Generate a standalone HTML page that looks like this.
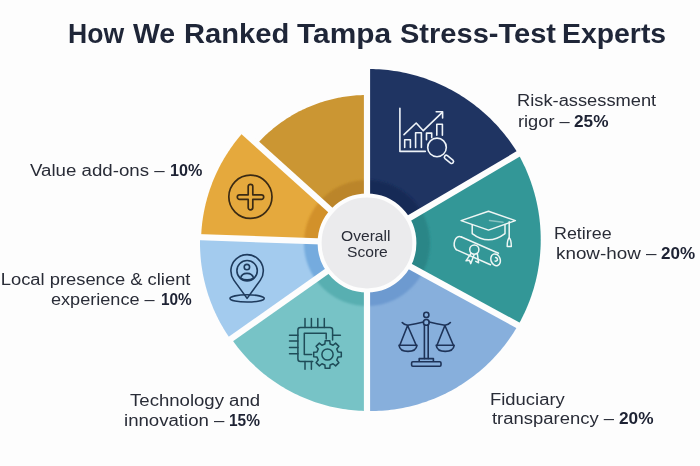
<!DOCTYPE html>
<html><head><meta charset="utf-8"><style>
html,body{margin:0;padding:0;background:#fdfdfd;}
body{width:700px;height:466px;position:relative;overflow:hidden;font-family:"Liberation Sans",Arial,sans-serif;}
.chart{position:absolute;left:0;top:0;}
.t{position:absolute;white-space:nowrap;}
.t b{color:#1d2233;}
</style></head><body>
<svg class="chart" width="700" height="466" viewBox="0 0 700 466">
<defs>
<filter id="soft" x="-20%" y="-20%" width="140%" height="140%"><feGaussianBlur stdDeviation="1.0"/></filter>
<clipPath id="pieclip"><path d="M367.00,243.00 L367.00,69.00 L370.01,69.00 L373.02,69.05 L376.03,69.16 L379.04,69.32 L382.05,69.53 L385.05,69.79 L388.05,70.10 L391.04,70.47 L394.03,70.88 L397.01,71.35 L399.98,71.87 L402.94,72.45 L405.89,73.07 L408.83,73.74 L411.76,74.47 L414.68,75.24 L417.58,76.07 L420.47,76.95 L423.35,77.87 L426.21,78.85 L429.05,79.88 L431.87,80.95 L434.67,82.08 L437.46,83.25 L440.22,84.47 L442.97,85.74 L445.69,87.05 L448.39,88.42 L451.06,89.83 L453.71,91.28 L456.34,92.78 L458.94,94.33 L461.51,95.92 L464.06,97.56 L466.57,99.24 L469.06,100.97 L471.52,102.73 L473.95,104.54 L476.34,106.40 L478.71,108.29 L481.04,110.22 L483.33,112.20 L485.60,114.21 L487.83,116.27 L490.02,118.36 L492.18,120.49 L494.30,122.66 L496.38,124.86 L498.42,127.10 L500.43,129.38 L502.39,131.69 L504.32,134.03 L506.20,136.41 L508.05,138.82 L509.85,141.26 L511.61,143.74 L513.33,146.24 L515.00,148.77 L516.63,151.34 L518.22,153.93 Z" fill="#1f3462"/><path d="M367.00,243.00 L518.22,153.93 L519.67,156.57 L521.09,159.23 L522.45,161.92 L523.77,164.63 L525.04,167.36 L526.27,170.12 L527.44,172.89 L528.57,175.68 L529.65,178.49 L530.68,181.31 L531.66,184.16 L532.59,187.01 L533.47,189.89 L534.31,192.77 L535.09,195.67 L535.82,198.58 L536.50,201.51 L537.14,204.44 L537.72,207.38 L538.25,210.33 L538.72,213.29 L539.15,216.26 L539.53,219.23 L539.85,222.20 L540.13,225.19 L540.35,228.17 L540.52,231.16 L540.64,234.14 L540.71,237.13 L540.73,240.12 L540.69,243.11 L540.61,246.09 L540.47,249.07 L540.28,252.05 L540.04,255.02 L539.75,257.99 L539.41,260.95 L539.02,263.91 L538.57,266.85 L538.08,269.79 L537.54,272.72 L536.95,275.63 L536.30,278.54 L535.61,281.43 L534.87,284.31 L534.08,287.17 L533.24,290.02 L532.35,292.86 L531.41,295.68 L530.42,298.48 L529.39,301.26 L528.31,304.02 L527.18,306.76 L526.01,309.48 L524.79,312.18 L523.53,314.86 L522.21,317.52 L520.86,320.15 L519.46,322.75 L518.01,325.33 Z" fill="#339797"/><path d="M367.00,243.00 L518.01,325.33 L516.46,327.99 L514.86,330.61 L513.22,333.20 L511.53,335.76 L509.79,338.29 L508.01,340.79 L506.19,343.25 L504.32,345.68 L502.41,348.08 L500.46,350.44 L498.47,352.76 L496.44,355.05 L494.37,357.30 L492.26,359.51 L490.11,361.68 L487.92,363.81 L485.70,365.90 L483.44,367.96 L481.15,369.97 L478.82,371.93 L476.45,373.86 L474.06,375.74 L471.63,377.58 L469.17,379.37 L466.68,381.12 L464.16,382.83 L461.61,384.48 L459.03,386.09 L456.42,387.66 L453.79,389.17 L451.13,390.64 L448.45,392.06 L445.75,393.44 L443.02,394.76 L440.27,396.03 L437.49,397.26 L434.70,398.43 L431.89,399.55 L429.06,400.62 L426.21,401.64 L423.34,402.61 L420.46,403.53 L417.57,404.40 L414.66,405.21 L411.74,405.97 L408.80,406.68 L405.86,407.34 L402.90,407.94 L399.94,408.49 L396.96,408.98 L393.99,409.43 L391.00,409.82 L388.01,410.15 L385.01,410.43 L382.01,410.66 L379.01,410.84 L376.01,410.96 L373.00,411.03 L370.00,411.04 L367.00,411.00 Z" fill="#87afdc"/><path d="M367.00,243.00 L367.00,411.00 L364.32,410.95 L361.65,410.85 L358.97,410.71 L356.30,410.53 L353.64,410.30 L350.98,410.03 L348.32,409.72 L345.67,409.37 L343.02,408.98 L340.39,408.54 L337.76,408.06 L335.14,407.54 L332.52,406.98 L329.92,406.38 L327.33,405.73 L324.75,405.05 L322.18,404.32 L319.62,403.56 L317.08,402.75 L314.55,401.90 L312.04,401.01 L309.54,400.09 L307.05,399.12 L304.58,398.11 L302.13,397.07 L299.70,395.98 L297.28,394.86 L294.88,393.70 L292.50,392.50 L290.15,391.27 L287.81,389.99 L285.49,388.68 L283.20,387.34 L280.92,385.95 L278.67,384.53 L276.45,383.08 L274.24,381.59 L272.07,380.07 L269.91,378.51 L267.78,376.92 L265.68,375.29 L263.61,373.64 L261.56,371.95 L259.54,370.22 L257.55,368.47 L255.58,366.68 L253.65,364.87 L251.74,363.02 L249.87,361.14 L248.02,359.24 L246.21,357.30 L244.43,355.34 L242.68,353.35 L240.96,351.33 L239.28,349.29 L237.62,347.22 L236.00,345.12 L234.42,343.00 L232.87,340.86 L231.35,338.69 Z" fill="#77c3c6"/><path d="M367.00,243.00 L230.54,339.26 L229.50,337.78 L228.49,336.29 L227.48,334.78 L226.50,333.27 L225.53,331.74 L224.58,330.21 L223.64,328.66 L222.72,327.11 L221.82,325.54 L220.94,323.96 L220.07,322.38 L219.22,320.78 L218.39,319.18 L217.57,317.57 L216.77,315.95 L215.99,314.32 L215.23,312.68 L214.49,311.03 L213.76,309.38 L213.05,307.72 L212.36,306.05 L211.68,304.37 L211.03,302.68 L210.39,300.99 L209.77,299.29 L209.17,297.59 L208.59,295.88 L208.03,294.16 L207.49,292.44 L206.96,290.71 L206.45,288.98 L205.97,287.24 L205.50,285.49 L205.05,283.74 L204.61,281.99 L204.20,280.23 L203.81,278.46 L203.43,276.69 L203.08,274.92 L202.74,273.15 L202.43,271.37 L202.13,269.59 L201.85,267.80 L201.59,266.01 L201.35,264.22 L201.13,262.43 L200.93,260.63 L200.75,258.83 L200.59,257.03 L200.45,255.23 L200.33,253.43 L200.22,251.62 L200.14,249.82 L200.08,248.01 L200.03,246.21 L200.01,244.40 L200.00,242.59 L200.01,240.78 L200.05,238.98 L200.10,237.17 Z" fill="#a3cbee"/><path d="M367.00,243.00 L201.10,237.21 L201.18,235.28 L201.28,233.35 L201.40,231.42 L201.55,229.49 L201.72,227.57 L201.91,225.65 L202.12,223.73 L202.36,221.81 L202.62,219.90 L202.90,217.99 L203.20,216.08 L203.52,214.17 L203.87,212.27 L204.24,210.38 L204.63,208.49 L205.04,206.60 L205.47,204.72 L205.93,202.84 L206.41,200.97 L206.91,199.10 L207.43,197.24 L207.97,195.39 L208.54,193.54 L209.12,191.70 L209.73,189.87 L210.36,188.04 L211.01,186.22 L211.68,184.41 L212.37,182.61 L213.09,180.82 L213.82,179.03 L214.58,177.25 L215.35,175.48 L216.15,173.72 L216.96,171.97 L217.80,170.23 L218.66,168.50 L219.53,166.78 L220.43,165.07 L221.35,163.37 L222.28,161.68 L223.24,160.00 L224.22,158.33 L225.21,156.68 L226.22,155.03 L227.26,153.40 L228.31,151.78 L229.38,150.17 L230.47,148.58 L231.58,147.00 L232.70,145.43 L233.85,143.87 L235.01,142.33 L236.19,140.80 L237.39,139.29 L238.60,137.78 L239.84,136.30 L241.09,134.82 L242.35,133.37 L243.64,131.92 Z" fill="#e5a93d"/><path d="M367.00,243.00 L257.01,143.97 L258.41,142.44 L259.82,140.94 L261.26,139.45 L262.71,137.98 L264.19,136.54 L265.69,135.11 L267.20,133.71 L268.74,132.33 L270.29,130.96 L271.87,129.63 L273.46,128.31 L275.07,127.01 L276.70,125.74 L278.34,124.49 L280.01,123.27 L281.69,122.06 L283.38,120.88 L285.10,119.73 L286.83,118.60 L288.57,117.49 L290.33,116.41 L292.11,115.35 L293.90,114.31 L295.70,113.31 L297.52,112.32 L299.35,111.37 L301.19,110.43 L303.05,109.53 L304.92,108.65 L306.80,107.80 L308.70,106.97 L310.60,106.17 L312.52,105.39 L314.44,104.65 L316.38,103.93 L318.33,103.23 L320.28,102.57 L322.25,101.93 L324.22,101.32 L326.21,100.73 L328.20,100.18 L330.19,99.65 L332.20,99.15 L334.21,98.68 L336.23,98.23 L338.25,97.82 L340.28,97.43 L342.32,97.07 L344.36,96.74 L346.40,96.44 L348.45,96.17 L350.50,95.92 L352.56,95.71 L354.62,95.52 L356.68,95.36 L358.74,95.23 L360.80,95.13 L362.87,95.06 L364.93,95.01 L367.00,95.00 Z" fill="#cb9633"/></clipPath>
</defs>
<path d="M367.00,243.00 L367.00,69.00 L370.01,69.00 L373.02,69.05 L376.03,69.16 L379.04,69.32 L382.05,69.53 L385.05,69.79 L388.05,70.10 L391.04,70.47 L394.03,70.88 L397.01,71.35 L399.98,71.87 L402.94,72.45 L405.89,73.07 L408.83,73.74 L411.76,74.47 L414.68,75.24 L417.58,76.07 L420.47,76.95 L423.35,77.87 L426.21,78.85 L429.05,79.88 L431.87,80.95 L434.67,82.08 L437.46,83.25 L440.22,84.47 L442.97,85.74 L445.69,87.05 L448.39,88.42 L451.06,89.83 L453.71,91.28 L456.34,92.78 L458.94,94.33 L461.51,95.92 L464.06,97.56 L466.57,99.24 L469.06,100.97 L471.52,102.73 L473.95,104.54 L476.34,106.40 L478.71,108.29 L481.04,110.22 L483.33,112.20 L485.60,114.21 L487.83,116.27 L490.02,118.36 L492.18,120.49 L494.30,122.66 L496.38,124.86 L498.42,127.10 L500.43,129.38 L502.39,131.69 L504.32,134.03 L506.20,136.41 L508.05,138.82 L509.85,141.26 L511.61,143.74 L513.33,146.24 L515.00,148.77 L516.63,151.34 L518.22,153.93 Z" fill="#1f3462"/><path d="M367.00,243.00 L518.22,153.93 L519.67,156.57 L521.09,159.23 L522.45,161.92 L523.77,164.63 L525.04,167.36 L526.27,170.12 L527.44,172.89 L528.57,175.68 L529.65,178.49 L530.68,181.31 L531.66,184.16 L532.59,187.01 L533.47,189.89 L534.31,192.77 L535.09,195.67 L535.82,198.58 L536.50,201.51 L537.14,204.44 L537.72,207.38 L538.25,210.33 L538.72,213.29 L539.15,216.26 L539.53,219.23 L539.85,222.20 L540.13,225.19 L540.35,228.17 L540.52,231.16 L540.64,234.14 L540.71,237.13 L540.73,240.12 L540.69,243.11 L540.61,246.09 L540.47,249.07 L540.28,252.05 L540.04,255.02 L539.75,257.99 L539.41,260.95 L539.02,263.91 L538.57,266.85 L538.08,269.79 L537.54,272.72 L536.95,275.63 L536.30,278.54 L535.61,281.43 L534.87,284.31 L534.08,287.17 L533.24,290.02 L532.35,292.86 L531.41,295.68 L530.42,298.48 L529.39,301.26 L528.31,304.02 L527.18,306.76 L526.01,309.48 L524.79,312.18 L523.53,314.86 L522.21,317.52 L520.86,320.15 L519.46,322.75 L518.01,325.33 Z" fill="#339797"/><path d="M367.00,243.00 L518.01,325.33 L516.46,327.99 L514.86,330.61 L513.22,333.20 L511.53,335.76 L509.79,338.29 L508.01,340.79 L506.19,343.25 L504.32,345.68 L502.41,348.08 L500.46,350.44 L498.47,352.76 L496.44,355.05 L494.37,357.30 L492.26,359.51 L490.11,361.68 L487.92,363.81 L485.70,365.90 L483.44,367.96 L481.15,369.97 L478.82,371.93 L476.45,373.86 L474.06,375.74 L471.63,377.58 L469.17,379.37 L466.68,381.12 L464.16,382.83 L461.61,384.48 L459.03,386.09 L456.42,387.66 L453.79,389.17 L451.13,390.64 L448.45,392.06 L445.75,393.44 L443.02,394.76 L440.27,396.03 L437.49,397.26 L434.70,398.43 L431.89,399.55 L429.06,400.62 L426.21,401.64 L423.34,402.61 L420.46,403.53 L417.57,404.40 L414.66,405.21 L411.74,405.97 L408.80,406.68 L405.86,407.34 L402.90,407.94 L399.94,408.49 L396.96,408.98 L393.99,409.43 L391.00,409.82 L388.01,410.15 L385.01,410.43 L382.01,410.66 L379.01,410.84 L376.01,410.96 L373.00,411.03 L370.00,411.04 L367.00,411.00 Z" fill="#87afdc"/><path d="M367.00,243.00 L367.00,411.00 L364.32,410.95 L361.65,410.85 L358.97,410.71 L356.30,410.53 L353.64,410.30 L350.98,410.03 L348.32,409.72 L345.67,409.37 L343.02,408.98 L340.39,408.54 L337.76,408.06 L335.14,407.54 L332.52,406.98 L329.92,406.38 L327.33,405.73 L324.75,405.05 L322.18,404.32 L319.62,403.56 L317.08,402.75 L314.55,401.90 L312.04,401.01 L309.54,400.09 L307.05,399.12 L304.58,398.11 L302.13,397.07 L299.70,395.98 L297.28,394.86 L294.88,393.70 L292.50,392.50 L290.15,391.27 L287.81,389.99 L285.49,388.68 L283.20,387.34 L280.92,385.95 L278.67,384.53 L276.45,383.08 L274.24,381.59 L272.07,380.07 L269.91,378.51 L267.78,376.92 L265.68,375.29 L263.61,373.64 L261.56,371.95 L259.54,370.22 L257.55,368.47 L255.58,366.68 L253.65,364.87 L251.74,363.02 L249.87,361.14 L248.02,359.24 L246.21,357.30 L244.43,355.34 L242.68,353.35 L240.96,351.33 L239.28,349.29 L237.62,347.22 L236.00,345.12 L234.42,343.00 L232.87,340.86 L231.35,338.69 Z" fill="#77c3c6"/><path d="M367.00,243.00 L230.54,339.26 L229.50,337.78 L228.49,336.29 L227.48,334.78 L226.50,333.27 L225.53,331.74 L224.58,330.21 L223.64,328.66 L222.72,327.11 L221.82,325.54 L220.94,323.96 L220.07,322.38 L219.22,320.78 L218.39,319.18 L217.57,317.57 L216.77,315.95 L215.99,314.32 L215.23,312.68 L214.49,311.03 L213.76,309.38 L213.05,307.72 L212.36,306.05 L211.68,304.37 L211.03,302.68 L210.39,300.99 L209.77,299.29 L209.17,297.59 L208.59,295.88 L208.03,294.16 L207.49,292.44 L206.96,290.71 L206.45,288.98 L205.97,287.24 L205.50,285.49 L205.05,283.74 L204.61,281.99 L204.20,280.23 L203.81,278.46 L203.43,276.69 L203.08,274.92 L202.74,273.15 L202.43,271.37 L202.13,269.59 L201.85,267.80 L201.59,266.01 L201.35,264.22 L201.13,262.43 L200.93,260.63 L200.75,258.83 L200.59,257.03 L200.45,255.23 L200.33,253.43 L200.22,251.62 L200.14,249.82 L200.08,248.01 L200.03,246.21 L200.01,244.40 L200.00,242.59 L200.01,240.78 L200.05,238.98 L200.10,237.17 Z" fill="#a3cbee"/><path d="M367.00,243.00 L201.10,237.21 L201.18,235.28 L201.28,233.35 L201.40,231.42 L201.55,229.49 L201.72,227.57 L201.91,225.65 L202.12,223.73 L202.36,221.81 L202.62,219.90 L202.90,217.99 L203.20,216.08 L203.52,214.17 L203.87,212.27 L204.24,210.38 L204.63,208.49 L205.04,206.60 L205.47,204.72 L205.93,202.84 L206.41,200.97 L206.91,199.10 L207.43,197.24 L207.97,195.39 L208.54,193.54 L209.12,191.70 L209.73,189.87 L210.36,188.04 L211.01,186.22 L211.68,184.41 L212.37,182.61 L213.09,180.82 L213.82,179.03 L214.58,177.25 L215.35,175.48 L216.15,173.72 L216.96,171.97 L217.80,170.23 L218.66,168.50 L219.53,166.78 L220.43,165.07 L221.35,163.37 L222.28,161.68 L223.24,160.00 L224.22,158.33 L225.21,156.68 L226.22,155.03 L227.26,153.40 L228.31,151.78 L229.38,150.17 L230.47,148.58 L231.58,147.00 L232.70,145.43 L233.85,143.87 L235.01,142.33 L236.19,140.80 L237.39,139.29 L238.60,137.78 L239.84,136.30 L241.09,134.82 L242.35,133.37 L243.64,131.92 Z" fill="#e5a93d"/><path d="M367.00,243.00 L257.01,143.97 L258.41,142.44 L259.82,140.94 L261.26,139.45 L262.71,137.98 L264.19,136.54 L265.69,135.11 L267.20,133.71 L268.74,132.33 L270.29,130.96 L271.87,129.63 L273.46,128.31 L275.07,127.01 L276.70,125.74 L278.34,124.49 L280.01,123.27 L281.69,122.06 L283.38,120.88 L285.10,119.73 L286.83,118.60 L288.57,117.49 L290.33,116.41 L292.11,115.35 L293.90,114.31 L295.70,113.31 L297.52,112.32 L299.35,111.37 L301.19,110.43 L303.05,109.53 L304.92,108.65 L306.80,107.80 L308.70,106.97 L310.60,106.17 L312.52,105.39 L314.44,104.65 L316.38,103.93 L318.33,103.23 L320.28,102.57 L322.25,101.93 L324.22,101.32 L326.21,100.73 L328.20,100.18 L330.19,99.65 L332.20,99.15 L334.21,98.68 L336.23,98.23 L338.25,97.82 L340.28,97.43 L342.32,97.07 L344.36,96.74 L346.40,96.44 L348.45,96.17 L350.50,95.92 L352.56,95.71 L354.62,95.52 L356.68,95.36 L358.74,95.23 L360.80,95.13 L362.87,95.06 L364.93,95.01 L367.00,95.00 Z" fill="#cb9633"/>
<g clip-path="url(#pieclip)"><g filter="url(#soft)"><path d="M367.00,243.00 L365.90,180.01 L367.03,180.00 L368.15,180.01 L369.28,180.04 L370.41,180.09 L371.53,180.16 L372.66,180.25 L373.78,180.37 L374.90,180.50 L376.01,180.65 L377.13,180.82 L378.24,181.01 L379.34,181.22 L380.45,181.45 L381.55,181.70 L382.64,181.97 L383.73,182.26 L384.81,182.57 L385.89,182.90 L386.96,183.25 L388.03,183.61 L389.09,184.00 L390.14,184.40 L391.19,184.83 L392.22,185.27 L393.25,185.73 L394.27,186.21 L395.28,186.71 L396.29,187.22 L397.28,187.75 L398.26,188.30 L399.24,188.87 L400.20,189.46 L401.15,190.06 L402.09,190.68 L403.02,191.31 L403.94,191.97 L404.85,192.64 L405.74,193.32 L406.63,194.02 L407.50,194.74 L408.35,195.47 L409.20,196.22 L410.03,196.98 L410.84,197.76 L411.64,198.55 L412.43,199.36 L413.21,200.18 L413.96,201.01 L414.71,201.86 L415.44,202.72 L416.15,203.59 L416.85,204.47 L417.53,205.37 L418.19,206.28 L418.84,207.20 L419.47,208.14 L420.09,209.08 L420.69,210.04 L421.27,211.00 L421.83,211.98 Z" fill="#192c57"/><path d="M367.00,243.00 L420.72,210.08 L421.29,211.04 L421.85,212.01 L422.39,212.99 L422.92,213.98 L423.43,214.98 L423.91,215.99 L424.39,217.00 L424.84,218.03 L425.27,219.06 L425.69,220.10 L426.09,221.14 L426.47,222.20 L426.83,223.26 L427.17,224.32 L427.49,225.40 L427.79,226.48 L428.08,227.56 L428.34,228.65 L428.59,229.74 L428.81,230.84 L429.02,231.94 L429.21,233.04 L429.37,234.15 L429.52,235.26 L429.65,236.37 L429.76,237.48 L429.85,238.60 L429.91,239.72 L429.96,240.84 L429.99,241.96 L430.00,243.08 L429.99,244.19 L429.96,245.31 L429.91,246.43 L429.84,247.55 L429.74,248.67 L429.63,249.78 L429.50,250.89 L429.35,252.00 L429.18,253.11 L428.99,254.21 L428.79,255.31 L428.56,256.41 L428.31,257.50 L428.04,258.59 L427.75,259.67 L427.45,260.75 L427.12,261.82 L426.78,262.88 L426.42,263.94 L426.04,265.00 L425.64,266.04 L425.22,267.08 L424.78,268.11 L424.32,269.13 L423.85,270.15 L423.36,271.15 L422.85,272.15 L422.32,273.14 L421.78,274.12 Z" fill="#2a8687"/><path d="M367.00,243.00 L422.83,272.19 L422.28,273.21 L421.72,274.23 L421.13,275.23 L420.53,276.22 L419.91,277.20 L419.27,278.17 L418.61,279.13 L417.93,280.08 L417.24,281.01 L416.53,281.93 L415.81,282.84 L415.06,283.73 L414.30,284.61 L413.53,285.48 L412.74,286.33 L411.93,287.16 L411.11,287.98 L410.27,288.79 L409.42,289.58 L408.55,290.35 L407.67,291.11 L406.78,291.85 L405.87,292.58 L404.95,293.29 L404.02,293.98 L403.07,294.65 L402.11,295.31 L401.14,295.95 L400.16,296.57 L399.16,297.17 L398.16,297.75 L397.14,298.32 L396.12,298.87 L395.08,299.39 L394.04,299.90 L392.99,300.39 L391.92,300.86 L390.85,301.31 L389.77,301.74 L388.68,302.15 L387.59,302.54 L386.49,302.91 L385.38,303.26 L384.27,303.59 L383.15,303.90 L382.02,304.18 L380.89,304.45 L379.75,304.70 L378.61,304.92 L377.47,305.12 L376.32,305.31 L375.17,305.47 L374.02,305.61 L372.86,305.73 L371.71,305.82 L370.55,305.90 L369.39,305.95 L368.22,305.99 L367.06,306.00 L365.90,305.99 Z" fill="#6d9ad0"/><path d="M367.00,243.00 L368.10,305.99 L367.06,306.00 L366.02,305.99 L364.98,305.97 L363.94,305.93 L362.90,305.87 L361.86,305.79 L360.82,305.70 L359.79,305.59 L358.76,305.46 L357.72,305.31 L356.70,305.15 L355.67,304.97 L354.65,304.78 L353.63,304.56 L352.61,304.34 L351.60,304.09 L350.60,303.83 L349.59,303.55 L348.59,303.25 L347.60,302.94 L346.61,302.61 L345.63,302.27 L344.66,301.90 L343.69,301.53 L342.72,301.13 L341.76,300.72 L340.81,300.30 L339.87,299.86 L338.94,299.40 L338.01,298.93 L337.09,298.45 L336.18,297.94 L335.27,297.43 L334.38,296.90 L333.49,296.35 L332.61,295.79 L331.75,295.21 L330.89,294.62 L330.04,294.02 L329.20,293.40 L328.38,292.77 L327.56,292.13 L326.75,291.47 L325.96,290.80 L325.17,290.11 L324.40,289.41 L323.64,288.70 L322.89,287.98 L322.15,287.25 L321.43,286.50 L320.72,285.74 L320.02,284.97 L319.33,284.19 L318.65,283.39 L317.99,282.59 L317.35,281.78 L316.71,280.95 L316.09,280.11 L315.49,279.27 L314.89,278.41 Z" fill="#59afb1"/><path d="M367.00,243.00 L316.16,280.21 L315.74,279.63 L315.33,279.04 L314.92,278.45 L314.52,277.85 L314.12,277.25 L313.74,276.65 L313.36,276.04 L312.98,275.42 L312.62,274.80 L312.26,274.18 L311.91,273.56 L311.56,272.93 L311.22,272.29 L310.89,271.65 L310.57,271.01 L310.25,270.37 L309.95,269.72 L309.65,269.07 L309.35,268.41 L309.07,267.75 L308.79,267.09 L308.52,266.42 L308.25,265.76 L308.00,265.08 L307.75,264.41 L307.51,263.73 L307.28,263.05 L307.05,262.37 L306.83,261.69 L306.63,261.00 L306.42,260.31 L306.23,259.62 L306.05,258.92 L305.87,258.23 L305.70,257.53 L305.54,256.83 L305.38,256.13 L305.24,255.42 L305.10,254.72 L304.97,254.01 L304.85,253.30 L304.73,252.59 L304.63,251.88 L304.53,251.17 L304.44,250.46 L304.36,249.75 L304.29,249.03 L304.22,248.32 L304.17,247.60 L304.12,246.88 L304.08,246.17 L304.05,245.45 L304.02,244.73 L304.01,244.01 L304.00,243.29 L304.00,242.57 L304.01,241.86 L304.03,241.14 L304.05,240.42 L304.09,239.70 Z" fill="#74abde"/><path d="M367.00,243.00 L304.01,241.90 L304.03,241.13 L304.06,240.36 L304.09,239.59 L304.14,238.82 L304.19,238.06 L304.26,237.29 L304.33,236.52 L304.42,235.76 L304.51,234.99 L304.61,234.23 L304.72,233.47 L304.85,232.71 L304.98,231.95 L305.12,231.19 L305.26,230.44 L305.42,229.69 L305.59,228.94 L305.77,228.19 L305.95,227.44 L306.15,226.69 L306.35,225.95 L306.56,225.21 L306.79,224.48 L307.02,223.74 L307.26,223.01 L307.50,222.28 L307.76,221.56 L308.03,220.83 L308.30,220.12 L308.59,219.40 L308.88,218.69 L309.18,217.98 L309.49,217.28 L309.81,216.57 L310.14,215.88 L310.47,215.19 L310.82,214.50 L311.17,213.81 L311.53,213.13 L311.90,212.46 L312.28,211.79 L312.66,211.12 L313.06,210.46 L313.46,209.80 L313.87,209.15 L314.28,208.50 L314.71,207.86 L315.14,207.23 L315.58,206.59 L316.03,205.97 L316.49,205.35 L316.95,204.74 L317.42,204.13 L317.90,203.52 L318.39,202.93 L318.88,202.34 L319.38,201.75 L319.89,201.17 L320.40,200.60 L320.92,200.03 Z" fill="#d2912c"/><path d="M367.00,243.00 L319.45,201.67 L320.06,200.98 L320.68,200.30 L321.30,199.63 L321.94,198.97 L322.58,198.32 L323.24,197.68 L323.90,197.05 L324.57,196.43 L325.25,195.82 L325.95,195.21 L326.64,194.62 L327.35,194.04 L328.07,193.47 L328.79,192.91 L329.53,192.36 L330.27,191.82 L331.01,191.29 L331.77,190.77 L332.53,190.26 L333.30,189.77 L334.08,189.28 L334.87,188.81 L335.66,188.35 L336.46,187.90 L337.26,187.46 L338.07,187.03 L338.89,186.62 L339.71,186.22 L340.54,185.83 L341.38,185.45 L342.22,185.08 L343.06,184.73 L343.91,184.38 L344.77,184.05 L345.63,183.74 L346.49,183.43 L347.36,183.14 L348.23,182.86 L349.11,182.59 L349.99,182.34 L350.87,182.10 L351.76,181.87 L352.65,181.66 L353.54,181.45 L354.44,181.26 L355.34,181.09 L356.24,180.93 L357.14,180.78 L358.05,180.64 L358.96,180.52 L359.87,180.40 L360.78,180.31 L361.69,180.22 L362.61,180.15 L363.52,180.10 L364.44,180.05 L365.35,180.02 L366.27,180.00 L367.18,180.00 L368.10,180.01 Z" fill="#bb8529"/></g></g>
<g stroke="#fdfdfd" stroke-width="6.2" stroke-linecap="butt"><line x1="367" y1="243" x2="367.00" y2="43.00"/><line x1="367" y1="243" x2="539.33" y2="141.49"/><line x1="367" y1="243" x2="542.60" y2="338.74"/><line x1="367" y1="243" x2="367.00" y2="443.00"/><line x1="367" y1="243" x2="203.57" y2="358.29"/><line x1="367" y1="243" x2="167.12" y2="236.02"/><line x1="367" y1="243" x2="218.37" y2="109.17"/></g>
<circle cx="367" cy="243" r="47.4" fill="#ebebed" stroke="#fdfdfd" stroke-width="4"/>
<g fill="none" stroke="#eef3f8" stroke-width="1.6" stroke-linecap="round" stroke-linejoin="round">
 <path d="M399.9,108.2 V151.4 H425.3"/>
 <path d="M404.7,147.5 V139.8 H410.4 V147.5"/>
 <path d="M415.6,147.5 V132.7 H421.4 V147.5"/>
 <path d="M426.5,139.8 V133.1 H431.7 V137.6"/>
 <path d="M436.8,135.3 V124.3 H442.4 V135.3"/>
 <path d="M404,134.6 L416.2,123 L423.3,130.7 L442,112.7"/>
 <path d="M436.2,111.7 H442.6 V117.9"/>
 <circle cx="437" cy="147.4" r="9.3"/>
 <path d="M447.4,155.63 L452.9,160.13 A1.9,1.9 0 0 1 450.5,163.07 L445,158.57 A1.9,1.9 0 0 1 447.4,155.63 Z"/>
</g>
<g fill="none" stroke="#eef6f4" stroke-width="1.5" stroke-linecap="round" stroke-linejoin="round">
 <path d="M461.1,220.6 L488.5,211.3 L515.4,220.6 L488.5,230.1 Z"/>
 <path d="M472.2,225 V233.6 Q488.5,246 505,233.6 V224.5"/>
 <path d="M509.2,221.7 V237.8"/>
 <path d="M489.5,220.6 L503,222.3" stroke-opacity="0.45"/>
 <path d="M509.2,237.8 C507.6,239 507.2,244 507.2,246.6 H511.3 C511.3,244 510.9,239 509.2,237.8 Z"/>
 <path d="M461.5,237 L498.5,253.2"/>
 <path d="M456.2,249.6 L490.5,264.8"/>
 <path d="M461.5,237 C455,234 452,245 456.2,249.6"/>
 <ellipse cx="495.6" cy="259.8" rx="4.6" ry="6" transform="rotate(-20 495.6 259.8)"/>
 <path d="M495.6,257.6 a1.8,1.8 0 1 1 -0.5,3.5"/>
 <circle cx="474.3" cy="249.6" r="4.6"/>
 <path d="M471.2,253.2 L466,260.8 L469.4,260.2 L470.8,263.6 L474,255"/>
 <path d="M477.3,253.3 L478.6,262.8 L475.8,261.4"/>
</g>
<!--ICONS2-->
<g fill="none" stroke="#1e3358" stroke-width="1.6" stroke-linecap="round" stroke-linejoin="round">
 <circle cx="426.3" cy="314.9" r="2.6"/>
 <circle cx="426.3" cy="322.4" r="2.9"/>
 <path d="M402.2,322.6 Q404,325 407.6,325.2 Q416,323.8 423.4,322"/>
 <path d="M450.4,322.6 Q448.6,325 444.9,325.2 Q436.6,323.8 429.2,322"/>
 <path d="M424.4,325.3 V358.6 M428.2,325.3 V358.6"/>
 <path d="M419.2,361.3 V358.6 H433.4 V361.3"/>
 <rect x="411.6" y="361.7" width="29.4" height="4.6" rx="1.2"/>
 <path d="M407.6,325.5 L399.8,345.3 M407.6,325.5 L416.2,345.3"/>
 <path d="M399,345.3 H417 Q416,351.4 408,351.4 Q400,351.4 399,345.3 Z"/>
 <path d="M444.9,325.5 L437,345.3 M444.9,325.5 L453.4,345.3"/>
 <path d="M436.2,345.3 H454.2 Q453.2,351.4 445.2,351.4 Q437.2,351.4 436.2,345.3 Z"/>
</g>
<g fill="none" stroke="#1f4c58" stroke-width="1.5" stroke-linecap="round" stroke-linejoin="round">
 <path d="M312.7,361.6 H300.4 Q297.9,361.6 297.9,359.1 V330 Q297.9,327.5 300.4,327.5 H330.1 Q332.6,327.5 332.6,330 V340"/>
 <path d="M311.6,354.5 H304.3 V333.2 H326.2 V339"/>
 <path d="M305,318.4 V327.5 M311.4,318.4 V327.5 M317.8,318.4 V327.5 M324.3,318.4 V327.5"/>
 <path d="M289.5,335.2 H297.9 M289.5,341 H297.9 M289.5,347.4 H297.9 M289.5,353.8 H297.9"/>
 <path d="M332.6,335.2 H340.4"/>
 <path d="M305,361.6 V369.3 M311.4,361.6 V369.3"/>
 <path d="M324.89,344.02 L325.19,340.69 L329.81,340.69 L330.11,344.02 L333.06,345.24 L335.63,343.10 L338.90,346.37 L336.76,348.94 L337.98,351.89 L341.31,352.19 L341.31,356.81 L337.98,357.11 L336.76,360.06 L338.90,362.63 L335.63,365.90 L333.06,363.76 L330.11,364.98 L329.81,368.31 L325.19,368.31 L324.89,364.98 L321.94,363.76 L319.37,365.90 L316.10,362.63 L318.24,360.06 L317.02,357.11 L313.69,356.81 L313.69,352.19 L317.02,351.89 L318.24,348.94 L316.10,346.37 L319.37,343.10 L321.94,345.24 Z" fill="#74c3c5"/>
 <circle cx="327.5" cy="354.5" r="5.6"/>
</g>
<g fill="none" stroke="#1e3a5c" stroke-width="1.6" stroke-linecap="round" stroke-linejoin="round">
 <path d="M247.1,298.4 L234,280.4 A16.2,16.2 0 1 1 260.2,280.4 Z"/>
 <circle cx="247.1" cy="270.7" r="10.2"/>
 <circle cx="246.9" cy="267.1" r="2.7"/>
 <path d="M240.6,278.3 Q241.5,273.4 247,273.4 Q252.5,273.4 253.6,278.3 Q247,281.5 240.6,278.3 Z"/>
 <ellipse cx="247.1" cy="298.4" rx="17.1" ry="3.6"/>
</g>
<g fill="none" stroke="#3a2a14" stroke-width="1.7" stroke-linecap="round" stroke-linejoin="round">
 <circle cx="250.4" cy="196.8" r="21.6"/>
 <path d="M248.2,186.6 A2.3,2.3 0 0 1 252.8,186.6 V194.8 H261.4 A2.3,2.3 0 0 1 261.4,199.4 H252.8 V207.6 A2.3,2.3 0 0 1 248.2,207.6 V199.4 H239.6 A2.3,2.3 0 0 1 239.6,194.8 H248.2 Z"/>
</g>

</svg>
<span class="t" id="x0" style="top:19.70px;font-size:28px;line-height:28px;font-weight:bold;color:#1f2638;left:67.97px;transform-origin:0 0;transform:scaleX(0.9494);">How</span>
<span class="t" id="x1" style="top:19.70px;font-size:28px;line-height:28px;font-weight:bold;color:#1f2638;left:133.02px;transform-origin:0 0;transform:scaleX(1.0141);">We</span>
<span class="t" id="x2" style="top:19.70px;font-size:28px;line-height:28px;font-weight:bold;color:#1f2638;left:183.88px;transform-origin:0 0;transform:scaleX(1.0399);">Ranked</span>
<span class="t" id="x3" style="top:19.70px;font-size:28px;line-height:28px;font-weight:bold;color:#1f2638;left:297.0px;transform-origin:0 0;transform:scaleX(1.0664);">Tampa</span>
<span class="t" id="x4" style="top:19.70px;font-size:28px;line-height:28px;font-weight:bold;color:#1f2638;left:400.03px;transform-origin:0 0;transform:scaleX(1.0372);">Stress-Test</span>
<span class="t" id="x5" style="top:19.70px;font-size:28px;line-height:28px;font-weight:bold;color:#1f2638;left:561.9px;transform-origin:0 0;transform:scaleX(1.0139);">Experts</span>
<span class="t" id="x6" style="top:93.39px;font-size:16px;line-height:16px;font-weight:normal;color:#292c37;left:516.86px;transform-origin:0 0;transform:scaleX(1.1425);">Risk-assessment</span>
<span class="t" id="x7" style="top:225.51px;font-size:16px;line-height:16px;font-weight:normal;color:#292c37;left:554.44px;transform-origin:0 0;transform:scaleX(1.1162);">Retiree</span>
<span class="t" id="x8" style="top:391.55px;font-size:16px;line-height:16px;font-weight:normal;color:#292c37;left:489.89px;transform-origin:0 0;transform:scaleX(1.1518);">Fiduciary</span>
<span class="t" id="x9" style="top:392.58px;font-size:16px;line-height:16px;font-weight:normal;color:#292c37;right:440.19px;transform-origin:100% 0;transform:scaleX(1.1600);">Technology and</span>
<span class="t" id="x10" style="top:271.55px;font-size:16px;line-height:16px;font-weight:normal;color:#292c37;right:509.19px;transform-origin:100% 0;transform:scaleX(1.1463);">Local presence &amp; client</span>
<span class="t" id="x11" style="top:229.45px;font-size:14px;line-height:14px;font-weight:normal;color:#292c37;left:341.4px;transform-origin:0 0;transform:scaleX(1.1159);">Overall</span>
<span class="t" id="x12" style="top:245.47px;font-size:14px;line-height:14px;font-weight:normal;color:#292c37;left:346.99px;transform-origin:0 0;transform:scaleX(1.1159);">Score</span>
<span class="t" id="x13" style="top:113.96px;font-size:16px;line-height:16px;font-weight:normal;color:#292c37;left:518.19px;transform-origin:0 0;transform:scaleX(1.1386);">rigor –</span>
<span class="t" id="x14" style="top:113.96px;font-size:16px;line-height:16px;font-weight:bold;color:#1d2233;left:574.33px;transform-origin:0 0;transform:scaleX(1.0752);">25%</span>
<span class="t" id="x15" style="top:245.86px;font-size:16px;line-height:16px;font-weight:normal;color:#292c37;left:555.97px;transform-origin:0 0;transform:scaleX(1.1763);">know-how –</span>
<span class="t" id="x16" style="top:245.86px;font-size:16px;line-height:16px;font-weight:bold;color:#1d2233;left:660.57px;transform-origin:0 0;transform:scaleX(1.0645);">20%</span>
<span class="t" id="x17" style="top:411.16px;font-size:16px;line-height:16px;font-weight:normal;color:#292c37;left:492.0px;transform-origin:0 0;transform:scaleX(1.1526);">transparency –</span>
<span class="t" id="x18" style="top:411.16px;font-size:16px;line-height:16px;font-weight:bold;color:#1d2233;left:618.91px;transform-origin:0 0;transform:scaleX(1.0774);">20%</span>
<span class="t" id="x19" style="top:413.16px;font-size:16px;line-height:16px;font-weight:normal;color:#292c37;left:123.97px;transform-origin:0 0;transform:scaleX(1.1637);">innovation –</span>
<span class="t" id="x20" style="top:413.16px;font-size:16px;line-height:16px;font-weight:bold;color:#1d2233;left:228.94px;transform-origin:0 0;transform:scaleX(0.9654);">15%</span>
<span class="t" id="x21" style="top:291.66px;font-size:16px;line-height:16px;font-weight:normal;color:#292c37;left:51.4px;transform-origin:0 0;transform:scaleX(1.1309);">experience –</span>
<span class="t" id="x22" style="top:291.66px;font-size:16px;line-height:16px;font-weight:bold;color:#1d2233;left:160.54px;transform-origin:0 0;transform:scaleX(0.9591);">10%</span>
<span class="t" id="x23" style="top:163.16px;font-size:16px;line-height:16px;font-weight:normal;color:#292c37;left:30.4px;transform-origin:0 0;transform:scaleX(1.1673);">Value add-ons –</span>
<span class="t" id="x24" style="top:163.16px;font-size:16px;line-height:16px;font-weight:bold;color:#1d2233;left:169.71px;transform-origin:0 0;transform:scaleX(1.0092);">10%</span>
</body></html>
